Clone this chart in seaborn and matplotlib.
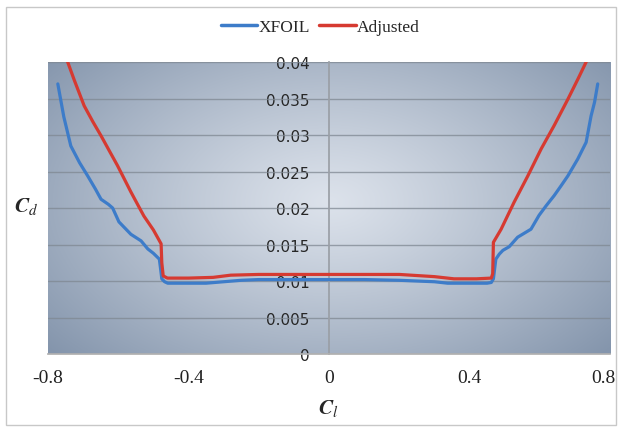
import numpy as np
import matplotlib
matplotlib.use("Agg")
import matplotlib.pyplot as plt
import seaborn as sns
import pandas as pd
from matplotlib.patches import Rectangle
from matplotlib.lines import Line2D

# XFOIL drag polar
xfoil_cl = [-0.772, -0.755, -0.735, -0.71, -0.687, -0.665, -0.649, -0.628, -0.616,
            -0.598, -0.58, -0.564, -0.535, -0.516, -0.5, -0.483, -0.479, -0.476,
            -0.468, -0.459, -0.43, -0.4, -0.35, -0.3, -0.25, -0.2, -0.1, 0.0,
            0.1, 0.2, 0.25, 0.3, 0.338, 0.4, 0.45, 0.462, 0.468, 0.475, 0.485,
            0.495, 0.513, 0.537, 0.575, 0.598, 0.618, 0.641, 0.66, 0.68, 0.708,
            0.732, 0.746, 0.756, 0.765]
xfoil_cd = [0.037, 0.0325, 0.0285, 0.0262, 0.0244, 0.0226, 0.0212, 0.0205, 0.0200,
            0.0181, 0.0172, 0.0164, 0.0155, 0.0144, 0.0138, 0.0130, 0.0115, 0.0103,
            0.0099, 0.0097, 0.0097, 0.0097, 0.0097, 0.0099, 0.0101, 0.0102, 0.0102, 0.0102,
            0.0102, 0.0101, 0.0100, 0.0099, 0.0097, 0.0097, 0.0097, 0.0098, 0.0103, 0.0130, 0.0137,
            0.0142, 0.0147, 0.0160, 0.0171, 0.0190, 0.0203, 0.0217, 0.0230, 0.0244, 0.0267,
            0.0290, 0.0326, 0.0345, 0.0370]

# Adjusted drag polar
adj_cl = [-0.75, -0.725, -0.697, -0.672, -0.649, -0.625, -0.602, -0.583, -0.564,
          -0.545, -0.527, -0.5, -0.478, -0.476, -0.472, -0.46, -0.4, -0.33, -0.28,
          -0.2, 0.0, 0.2, 0.3, 0.356, 0.42, 0.462, 0.466, 0.468, 0.49, 0.527, 0.566,
          0.604, 0.641, 0.68, 0.71, 0.74]
adj_cd = [0.0408, 0.0375, 0.0340, 0.0318, 0.0299, 0.0278, 0.0258, 0.0240, 0.0222,
          0.0205, 0.0189, 0.0170, 0.0151, 0.0125, 0.0107, 0.0104, 0.0104, 0.0105, 0.0108,
          0.0109, 0.0109, 0.0109, 0.0106, 0.0103, 0.0103, 0.0104, 0.0110, 0.0153, 0.0171,
          0.0208, 0.0244, 0.0281, 0.0313, 0.0349, 0.0378, 0.0408]

xticks = [-0.8, -0.4, 0, 0.4, 0.8]
xtick_labels = ["-0.8", "-0.4", "0", "0.4", "0.8"]
yticks = [0, 0.005, 0.01, 0.015, 0.02, 0.025, 0.03, 0.035, 0.04]
ytick_labels = ["0", "0.005", "0.01", "0.015", "0.02", "0.025", "0.03", "0.035", "0.04"]

df = pd.concat([
    pd.DataFrame({"Cl": xfoil_cl, "Cd": xfoil_cd, "series": "XFOIL"}),
    pd.DataFrame({"Cl": adj_cl, "Cd": adj_cd, "series": "Adjusted"}),
])

blue = "#3d7cc9"
red = "#d63a31"

sns.set_theme(style="white")
plt.rcParams["mathtext.fontset"] = "stix"

fig = plt.figure(figsize=(6.2, 4.31), dpi=100)
ax = fig.add_axes([0.0774, 0.1763, 0.9065, 0.6775])

# radial gradient background
yy, xx = np.mgrid[0:1:200j, 0:1:300j]
r = np.sqrt(((xx - 0.5) / 0.66) ** 2 + ((yy - 0.52) / 0.78) ** 2)
r = np.clip(r, 0, 1) ** 1.15
c_in = np.array([220, 226, 235]) / 255
c_out = np.array([132, 149, 172]) / 255
img = c_in[None, None, :] * (1 - r[..., None]) + c_out[None, None, :] * r[..., None]
ax.imshow(img, extent=[0, 1, 0, 1], transform=ax.transAxes, aspect="auto",
          origin="lower", zorder=0, interpolation="bilinear")

for yv in yticks[1:]:
    ax.axhline(yv, color="#7f8892", lw=1.0, alpha=0.75, zorder=1)

sns.lineplot(data=df, x="Cl", y="Cd", hue="series", sort=False, estimator=None,
             palette={"XFOIL": blue, "Adjusted": red},
             lw=2.3, ax=ax, zorder=3, legend=False)

ax.set_xlim(-0.8, 0.8)
ax.set_ylim(0, 0.04)
ax.set_xticks(xticks)
ax.set_xticklabels(xtick_labels, fontfamily="Liberation Serif", fontsize=14, color="#222222")
ax.get_xticklabels()[-1].set_horizontalalignment("right")
ax.get_xticklabels()[-1].set_x(0.8)
ax.set_yticks(yticks)
ax.set_yticklabels(ytick_labels, fontfamily="Open Sans", fontsize=9.5, color="#3a3a3a")
ax.tick_params(axis="x", length=5, width=1, color="#b0b0b0", direction="out", pad=6)
ax.tick_params(axis="y", length=0, pad=14)
ax.spines["left"].set_position(("data", 0))
ax.spines["left"].set_color("#9a9fa6")
ax.spines["left"].set_zorder(2)
ax.spines["bottom"].set_color("#b0b0b0")
ax.spines["top"].set_visible(False)
ax.spines["right"].set_visible(False)
ax.set_xlabel("")
ax.set_ylabel("")

# shift last x tick label so it stays inside the frame
lab = ax.get_xticklabels()[-1]
lab.set_horizontalalignment("center")
from matplotlib.transforms import ScaledTranslation
lab.set_transform(lab.get_transform() + ScaledTranslation(-7 / 100, 0, fig.dpi_scale_trans))

fig.text(0.043, 0.522, r"$\mathbfit{C}_{d}$", fontsize=15.5, ha="center", va="center")
fig.text(0.529, 0.053, r"$\mathbfit{C}_{l}$", fontsize=15.5, ha="center", va="center")

handles = [Line2D([], [], color=blue, lw=2.5), Line2D([], [], color=red, lw=2.5)]
fig.legend(handles, ["XFOIL", "Adjusted"], loc="center", bbox_to_anchor=(0.517, 0.935),
           ncol=2, frameon=False, handlelength=2.1, columnspacing=0.5, handletextpad=0.1,
           prop={"family": "Liberation Serif", "size": 12.5})

fig.patches.append(Rectangle((0.009, 0.012), 0.984, 0.97, transform=fig.transFigure,
                             fill=False, edgecolor="#c8c8c8", lw=1))

fig.savefig("out.png", dpi=100)
